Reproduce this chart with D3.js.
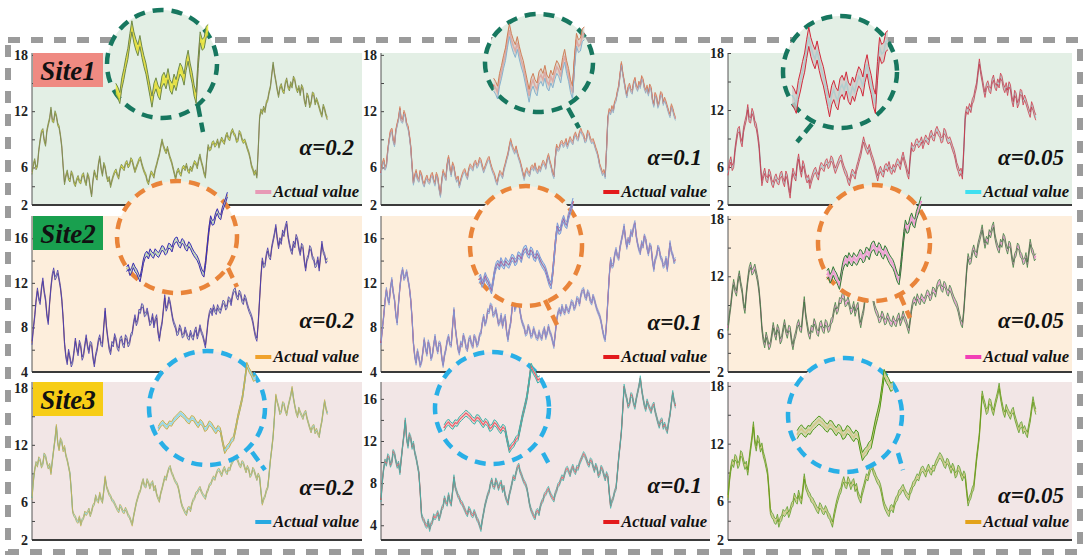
<!DOCTYPE html>
<meta charset="utf-8">
<script src="https://d3js.org/d3.v7.min.js"></script>
<body style="margin:0;background:#fff">
<div id="chart"></div>
</body>
<style>
svg text { font-family: "Liberation Serif", "DejaVu Serif", serif !important; font-weight: bold; }
.tick line { stroke: #444; }
.tick text { font-size: 14px; }
</style>
<script>

// series (one per site, the same data in the three alpha columns)
var site1 = [5.4, 6.3, 6.8, 5.9, 6.2, 7.8, 8.9, 9.8, 10.0, 8.9, 8.4, 9.9, 10.6, 11.2, 12.3, 11.0, 10.9, 11.9, 11.5, 10.6,
  10.3, 9.4, 8.2, 6.1, 4.3, 5.1, 5.6, 4.8, 4.6, 5.5, 5.2, 4.4, 4.1, 4.7, 5.0, 4.5, 4.4, 5.1, 5.3, 4.6,
  4.2, 5.3, 4.9, 3.8, 3.0, 4.6, 5.6, 5.1, 4.8, 6.3, 7.1, 5.9, 5.2, 6.4, 6.0, 5.1, 4.6, 4.9, 4.0, 4.6,
  5.1, 5.5, 5.7, 5.2, 4.9, 5.8, 6.2, 6.0, 5.8, 6.4, 6.6, 6.1, 6.3, 6.9, 6.7, 6.1, 5.6, 6.0, 6.4, 6.8,
  7.0, 6.4, 5.9, 5.5, 5.2, 4.6, 4.3, 5.0, 5.5, 5.3, 5.0, 5.8, 6.3, 6.9, 7.4, 8.2, 8.9, 8.3, 7.9, 7.6,
  8.1, 7.5, 7.0, 6.6, 6.0, 5.4, 4.8, 5.5, 5.8, 5.4, 5.2, 5.9, 6.1, 5.8, 6.3, 5.7, 5.5, 6.0, 5.7, 6.2,
  6.6, 6.4, 6.0, 6.8, 7.3, 6.6, 6.1, 5.4, 5.0, 6.9, 8.3, 7.9, 8.0, 8.6, 8.7, 8.3, 8.5, 8.9, 8.2, 8.7,
  9.1, 8.8, 8.6, 9.3, 9.6, 9.1, 9.0, 9.7, 10.0, 9.6, 9.4, 8.8, 8.9, 9.8, 9.6, 9.0, 8.7, 8.9, 8.5, 8.0,
  7.6, 7.0, 6.2, 5.8, 5.3, 5.6, 5.0, 7.9, 11.3, 12.1, 11.8, 12.4, 12.0, 12.9, 13.2, 14.0, 14.6, 15.9, 17.1, 16.0,
  15.2, 14.3, 13.6, 14.5, 14.8, 14.2, 14.0, 15.0, 15.4, 14.6, 14.3, 15.0, 14.6, 15.6, 15.3, 14.5, 14.1, 14.6, 13.8, 14.7,
  14.4, 13.2, 12.6, 13.8, 13.5, 12.5, 12.9, 13.9, 13.8, 12.8, 13.3, 12.9, 12.4, 11.9, 11.5, 12.6, 12.2, 11.6, 11.2];

var site2 = [6.6, 7.9, 9.0, 10.4, 11.4, 10.6, 10.2, 11.5, 12.3, 11.2, 10.5, 9.1, 8.4, 10.2, 11.6, 12.7, 13.2, 12.4, 12.6, 13.0,
  12.3, 11.6, 10.5, 8.8, 6.6, 5.4, 4.8, 5.9, 5.3, 4.6, 4.9, 5.8, 6.9, 6.1, 5.6, 6.7, 6.3, 5.2, 5.5, 6.4,
  7.2, 6.3, 5.8, 6.6, 6.5, 5.3, 4.6, 5.5, 6.0, 6.8, 7.2, 6.5, 6.4, 8.1, 9.6, 8.0, 7.0, 6.1, 5.7, 6.6,
  6.4, 7.3, 6.9, 6.2, 6.0, 6.9, 7.1, 6.5, 6.3, 7.2, 7.0, 6.4, 6.6, 7.3, 7.5, 8.4, 9.0, 8.3, 8.6, 9.5,
  9.4, 10.0, 9.9, 9.1, 9.2, 9.6, 9.0, 8.3, 8.5, 9.1, 8.1, 8.7, 9.0, 7.6, 6.9, 7.8, 8.4, 9.6, 10.8, 9.6,
  9.9, 10.6, 10.2, 9.4, 8.7, 8.3, 8.0, 7.4, 7.5, 8.1, 7.8, 7.2, 7.3, 7.9, 7.5, 7.1, 7.0, 7.6, 7.2, 7.0,
  7.6, 7.9, 7.1, 7.5, 8.1, 7.6, 7.3, 6.8, 6.3, 7.4, 8.6, 9.3, 9.6, 9.2, 9.9, 9.5, 9.3, 9.9, 9.6, 9.4,
  9.8, 10.3, 10.2, 9.7, 9.9, 10.6, 10.5, 10.1, 10.9, 11.3, 11.4, 10.8, 10.6, 11.2, 11.0, 10.4, 10.2, 10.8, 10.5, 10.0,
  9.6, 9.3, 9.0, 8.5, 7.8, 7.2, 6.9, 8.4, 10.5, 12.6, 14.1, 13.5, 13.6, 14.5, 15.0, 14.4, 14.2, 15.2, 15.8, 16.4,
  17.1, 16.0, 15.2, 15.9, 15.6, 16.6, 16.3, 17.0, 17.4, 16.2, 15.5, 15.0, 14.7, 15.6, 15.3, 16.2, 15.9, 15.1, 14.6, 15.4,
  15.2, 14.0, 13.2, 14.1, 14.4, 15.2, 15.0, 14.3, 14.1, 13.5, 13.6, 14.2, 13.2, 14.4, 15.6, 14.8, 14.5, 13.9, 14.1];

var site3 = [6.4, 8.2, 9.4, 10.1, 9.8, 10.6, 10.4, 9.7, 10.0, 11.0, 10.8, 10.1, 9.6, 9.9, 9.0, 10.3, 11.5, 12.6, 14.0, 12.2,
  11.5, 12.6, 12.3, 11.4, 11.8, 10.9, 10.4, 9.7, 9.0, 7.2, 5.0, 4.6, 4.4, 4.0, 3.9, 4.4, 3.6, 4.1, 4.3, 4.9,
  4.7, 4.9, 5.2, 4.6, 5.0, 5.6, 5.8, 6.6, 6.2, 6.0, 6.9, 6.3, 6.0, 7.2, 8.6, 7.6, 7.2, 6.8, 6.6, 6.2,
  6.1, 5.8, 5.5, 5.2, 5.0, 5.6, 5.4, 5.0, 4.9, 5.3, 5.0, 4.6, 4.4, 4.0, 3.6, 4.5, 5.2, 5.9, 6.4, 6.9,
  7.2, 7.9, 8.3, 7.7, 7.6, 8.3, 8.0, 7.5, 7.9, 8.1, 7.3, 7.6, 6.8, 6.4, 6.1, 6.9, 7.4, 8.0, 8.6, 8.4,
  9.0, 9.5, 9.7, 9.1, 8.8, 8.4, 8.1, 7.9, 7.5, 6.8, 6.0, 5.5, 5.2, 4.9, 4.7, 5.3, 5.4, 5.1, 5.8, 6.2,
  6.4, 6.9, 7.0, 7.3, 7.5, 7.1, 6.8, 6.6, 6.4, 7.0, 7.3, 7.8, 7.9, 8.3, 8.6, 8.4, 8.9, 9.3, 9.4, 9.1,
  8.8, 9.3, 9.6, 9.2, 9.0, 9.5, 9.4, 9.9, 10.2, 10.5, 10.8, 10.6, 10.3, 9.9, 9.7, 10.2, 10.1, 9.6, 9.2, 9.7,
  9.4, 8.7, 8.9, 9.5, 9.3, 8.8, 8.4, 8.9, 8.6, 7.1, 5.8, 6.3, 6.6, 7.2, 7.5, 8.9, 10.4, 11.6, 12.9, 15.0,
  17.2, 16.5, 16.0, 15.3, 15.5, 16.4, 16.3, 15.6, 15.2, 16.0, 16.6, 17.2, 18.0, 16.9, 16.1, 15.4, 15.0, 15.8, 15.4, 15.1,
  14.8, 15.3, 15.5, 14.8, 14.3, 13.8, 13.4, 13.9, 14.0, 13.3, 13.6, 13.2, 12.9, 13.8, 14.5, 15.6, 16.6, 15.8, 15.3];

var siteNames = ["Site1", "Site2", "Site3"];
var alphaLabels = ["0.2", "0.1", "0.05"];
var halfWidth = [0.15, 0.2, 0.28];              // prediction interval half width, per alpha
var insetSpans = [[88, 134], [120, 180], [140, 184]];  // index range shown in each zoom circle

// y axis domain and labelled ticks, per row then per column
var yDomains = [[[2, 18.2], [2, 18.2], [2, 18]],
                [[4, 18], [4, 18], [2, 18.3]],
                [[2, 18.6], [2.6, 17.6], [2, 18.4]]];
var yTicks = [[[2, 6, 12, 18], [2, 6, 12, 18], [2, 6, 12, 18]],
              [[4, 8, 12, 16], [4, 8, 12, 16], [2, 6, 12, 18]],
              [[2, 6, 12, 18], [4, 8, 12, 16], [2, 6, 12, 18]]];

// ---------------- layout and colours ----------------
var series = [site1, site2, site3];
var cols = [{x0: 32, x1: 362}, {x0: 381, x1: 710}, {x0: 728, x1: 1072}];
var rows = [{top: 53, bottom: 205, bg: "#e3efe5", ring: "#17775f", box: "#ef8a82"},
            {top: 216, bottom: 372, bg: "#fdeedc", ring: "#e9843a", box: "#19a04f"},
            {top: 382, bottom: 540, bg: "#f2e6e6", ring: "#29afe6", box: "#f7cd16"}];
var xMax = 243.6;
var insetBand = 2;   // the zoom circles exaggerate the interval
var serif = "'Liberation Serif', 'DejaVu Serif', serif";

// up/lo: interval bounds, fill: interval, act: actual value, mid: centre line shown on top
var styles = [
  [{up: "#6f8a4a", lo: "#6f8a4a", fill: "#e6ee2a", act: "#e79ab6"},
   {up: "#d07f58", lo: "#86b2cf", fill: "#d9cfc8", act: "#e31a1c"},
   {up: "#d22a3c", lo: "#d22a3c", fill: "#cfc9c6", act: "#3fe0f0"}],
  [{up: "#3b2fb5", lo: "#3b2fb5", fill: "#bfe8d8", act: "#f0a22c"},
   {up: "#7e9ad8", lo: "#7e9ad8", fill: "#a8dff2", act: "#e31a1c", mid: "#9b4f9c"},
   {up: "#2f7d35", lo: "#2f7d35", fill: "#eab8d8", act: "#f23fb6"}],
  [{up: "#c9b04e", lo: "#c9b04e", fill: "#b5e2ea", act: "#27a9e1"},
   {up: "#39b8ae", lo: "#39b8ae", fill: "#f2c4c4", act: "#e31a1c", mid: "#e2475a"},
   {up: "#4f9a1c", lo: "#4f9a1c", fill: "#cdd3a8", act: "#e3a21a"}]];

// zoom circles: centre, radii, tail start and end
var circles = [
  [{cx: 162, cy: 64, rx: 55, ry: 54, t0: [198, 106], t1: [203, 132]},
   {cx: 539, cy: 63, rx: 54, ry: 49, t0: [568, 108], t1: [579, 128]},
   {cx: 840, cy: 72, rx: 57, ry: 56, t0: [812, 124], t1: [797, 142]}],
  [{cx: 177, cy: 237, rx: 60, ry: 56, t0: [228, 268], t1: [237, 287]},
   {cx: 526, cy: 246, rx: 56, ry: 60, t0: [545, 300], t1: [557, 325]},
   {cx: 874, cy: 243, rx: 56, ry: 58, t0: [900, 295], t1: [910, 318]}],
  [{cx: 207, cy: 408, rx: 58, ry: 57, t0: [252, 452], t1: [265, 470]},
   {cx: 492, cy: 408, rx: 57, ry: 56, t0: [543, 453], t1: [550, 466]},
   {cx: 845, cy: 415, rx: 57, ry: 57, t0: [898, 453], t1: [903, 470]}]];

var alphaDrop = [[50, 40, 40], [44, 42, 44], [45, 47, 37]];
var legendDrop = [8, 10, 13];

var svg = d3.select("#chart")
  .append("svg")
    .attr("width", 1083)
    .attr("height", 560);

// grey dashed frame
svg.append("rect")
  .attr("x", 8).attr("y", 40)
  .attr("width", 1072).attr("height", 512)
  .attr("fill", "none")
  .attr("stroke", "#9b9b9b")
  .attr("stroke-width", 6)
  .attr("stroke-dasharray", "12,11");

function bandArea(x, y, hw) {
  return d3.area()
    .x(function(d) { return x(d.i); })
    .y0(function(d) { return y(d.v - hw); })
    .y1(function(d) { return y(d.v + hw); });
}
function valueLine(x, y, off) {
  return d3.line()
    .x(function(d) { return x(d.i); })
    .y(function(d) { return y(d.v + off); });
}

function drawSeries(g, pts, x, y, hw, st, w) {
  g.append("path").datum(pts)
    .attr("fill", "none").attr("stroke", st.act).attr("stroke-width", w * 1.6)
    .attr("d", valueLine(x, y, 0));
  g.append("path").datum(pts)
    .attr("fill", st.fill).attr("opacity", 0.8)
    .attr("d", bandArea(x, y, hw));
  if (st.mid) {
    g.append("path").datum(pts)
      .attr("fill", "none").attr("stroke", st.mid).attr("stroke-width", w * 0.8)
      .attr("d", valueLine(x, y, 0));
  }
  g.append("path").datum(pts)
    .attr("fill", "none").attr("stroke", st.up).attr("stroke-width", w)
    .attr("d", valueLine(x, y, hw));
  g.append("path").datum(pts)
    .attr("fill", "none").attr("stroke", st.lo).attr("stroke-width", w)
    .attr("d", valueLine(x, y, -hw));
}

function label(g, size) {
  return g.append("text")
    .attr("font-family", serif)
    .attr("font-weight", "bold")
    .attr("font-style", "italic")
    .attr("font-size", size)
    .attr("fill", "#111");
}

rows.forEach(function(r, ri) {
  var pts = series[ri].map(function(v, i) { return {i: i, v: v}; });

  cols.forEach(function(c, ci) {
    var g = svg.append("g");
    var st = styles[ri][ci];
    var hw = halfWidth[ci];

    g.append("rect")
      .attr("x", c.x0).attr("y", r.top)
      .attr("width", c.x1 - c.x0).attr("height", r.bottom - r.top)
      .attr("fill", r.bg);

    var x = d3.scaleLinear().domain([0, xMax]).range([c.x0, c.x1]);
    var y = d3.scaleLinear().domain(yDomains[ri][ci]).range([r.bottom, r.top]);

    // y axis, labelled ticks plus small ticks half way
    var ticks = yTicks[ri][ci];
    var minor = d3.pairs(ticks).map(function(p) { return (p[0] + p[1]) / 2; });
    g.append("g")
      .attr("transform", "translate(" + c.x0 + ",0)")
      .call(d3.axisLeft(y).tickValues(minor).tickSize(-3).tickFormat(""))
      .select(".domain").remove();
    var ya = g.append("g")
      .attr("transform", "translate(" + c.x0 + ",0)")
      .call(d3.axisLeft(y).tickValues(ticks).tickSize(-3).tickPadding(4));
    ya.select(".domain").remove();
    ya.selectAll("text")
      .style("font-size", "14px")
      .style("font-weight", "bold")
      .attr("fill", "#222");

    g.append("line")
      .attr("x1", c.x0).attr("x2", c.x0)
      .attr("y1", r.top).attr("y2", r.bottom)
      .attr("stroke", "#555").attr("stroke-width", 1);
    g.append("line")
      .attr("x1", c.x0).attr("x2", c.x1)
      .attr("y1", r.bottom).attr("y2", r.bottom)
      .attr("stroke", "#3a3a3a").attr("stroke-width", 2.2);

    drawSeries(g, pts, x, y, hw, st, 0.7);

    // alpha label
    label(g, 23)
      .attr("x", c.x1 - 8)
      .attr("y", r.bottom - alphaDrop[ri][ci])
      .attr("text-anchor", "end")
      .text("\u03b1=" + alphaLabels[ci]);

    // legend
    var lt = label(g, 16.5)
      .attr("x", c.x1 - 3)
      .attr("y", r.bottom - legendDrop[ri])
      .attr("text-anchor", "end")
      .text("Actual value");
    var tw = lt.node().getComputedTextLength();
    g.append("line")
      .attr("x1", c.x1 - 3 - tw - 18).attr("x2", c.x1 - 3 - tw - 2)
      .attr("y1", r.bottom - legendDrop[ri] - 5).attr("y2", r.bottom - legendDrop[ri] - 5)
      .attr("stroke", st.act).attr("stroke-width", 4);

    if (ci === 0) {
      g.append("rect")
        .attr("x", 33).attr("y", r.top)
        .attr("width", 70).attr("height", 34)
        .attr("fill", r.box);
      label(g, 27)
        .attr("x", 68).attr("y", r.top + 27)
        .attr("text-anchor", "middle")
        .text(siteNames[ri]);
    }
  });

  // zoom circles for this row, drawn over the row above
  cols.forEach(function(c, ci) {
    var cc = circles[ri][ci];
    var st = styles[ri][ci];
    var hw = halfWidth[ci] * insetBand;
    var g = svg.append("g");

    g.append("ellipse")
      .attr("cx", cc.cx).attr("cy", cc.cy)
      .attr("rx", cc.rx).attr("ry", cc.ry)
      .attr("fill", r.bg)
      .attr("stroke", r.ring)
      .attr("stroke-width", 4.5)
      .attr("stroke-dasharray", "11,8");
    g.append("line")
      .attr("x1", cc.t0[0]).attr("y1", cc.t0[1])
      .attr("x2", cc.t1[0]).attr("y2", cc.t1[1])
      .attr("stroke", r.ring)
      .attr("stroke-width", 4.5)
      .attr("stroke-dasharray", "11,6");

    var span = insetSpans[ri];
    var seg = pts.slice(span[0], span[1] + 1);
    var ext = d3.extent(seg, function(d) { return d.v; });
    var xi = d3.scaleLinear().domain(span)
      .range([cc.cx - 0.84 * cc.rx, cc.cx + 0.84 * cc.rx]);
    var yi = d3.scaleLinear().domain([ext[0] - hw, ext[1] + hw])
      .range([cc.cy + 0.8 * cc.ry, cc.cy - 0.8 * cc.ry]);
    drawSeries(g, seg, xi, yi, hw, st, 1);
  });
});

</script>
